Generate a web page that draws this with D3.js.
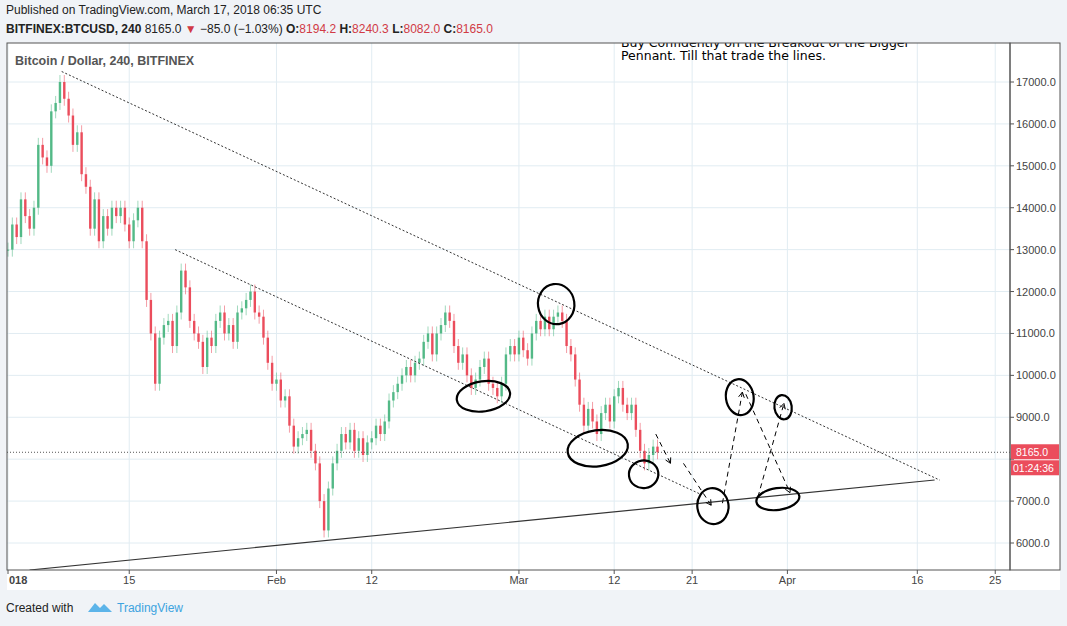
<!DOCTYPE html><html><head><meta charset="utf-8">
<script src="https://cdn.jsdelivr.net/npm/d3@7"></script>
<style>body{margin:0;background:#fff;font-family:Arial,"Liberation Sans",sans-serif}</style></head><body>
<svg id="c" width="1067" height="626"></svg>
<script>
// 12h closes from Jan 1 2018
const closes=[13000,13600,13300,14200,13800,13500,14000,15500,15200,15000,16300,16500,17000,16600,16200,15500,15800,14800,14500,13500,14200,13200,13800,13500,14000,13800,14000,13600,13200,13700,14000,13200,11800,11000,9800,10900,11200,11300,10700,11500,12500,12100,11300,11000,10800,10200,10900,10700,11300,11500,11000,11200,10800,11500,11600,11800,12000,11500,11400,10900,10300,9800,9900,9400,9500,8800,8300,8500,8600,8700,8200,7900,7000,6300,7300,7900,8200,8600,8400,8700,8200,8500,8100,8400,8500,8800,8600,8900,9400,9600,9800,10000,10200,10000,10300,10400,10800,11000,10500,11000,11200,11500,11300,10700,10300,10500,10000,9700,9900,10200,10400,9800,9700,9500,9800,10500,10700,10500,10900,10600,10400,11000,11300,11100,11400,11100,11400,11500,11300,10700,10500,9900,9300,8800,9200,8900,8600,9100,9300,8900,9500,9700,9300,9100,9300,8700,8200,7900,8100,8300,8165];
const priceTicks=[6000,7000,8000,9000,10000,11000,12000,13000,14000,15000,16000,17000];
const timeTicks=[[0,"018"],[14,"15"],[31,"Feb"],[42,"12"],[59,"Mar"],[70,"12"],[79,"21"],[90,"Apr"],[105,"16"],[114,"25"]];
const lastPrice=8165;
const upperLine=[[6.2,17250],[107.6,7500]];
const midLine=[[19.3,13000],[79.9,7170]];
const baseLine=[[2.5,5356],[107,7503]];
const circles=[[63.3,11700,2.1,480],[54.9,9500,3.1,360],[68.1,8260,3.5,430],[73.4,7640,1.7,330],[84.5,9480,1.6,430],[89.5,9240,1.0,290],[81.4,6880,1.8,430],[88.9,7050,2.5,260]];
const arrows=[[74.8,8600,76.5,7900],[78.0,7900,81.2,6900],[82.5,6950,84.8,9600],[85.2,9550,90.3,7200],[86.6,7100,89.6,9330]];

const svg=d3.select("#c");
const L=7,R=1010,T=43,B=570;
const x=d3.scaleLinear().domain([0,1]).range([8,16.66]);
const y=d3.scaleLinear().domain([6000,17000]).range([543,82]);
svg.append("rect").attr("width",1067).attr("height",626).attr("fill","#f0f3f7");
svg.append("rect").attr("x",L).attr("y",T).attr("width",1060-L).attr("height",B-T+20).attr("fill","#fff");
svg.append("defs").append("clipPath").attr("id","cp").append("rect").attr("x",L).attr("y",T).attr("width",R-L).attr("height",B-T);
const g=svg.append("g").attr("clip-path","url(#cp)");
priceTicks.forEach(p=>g.append("line").attr("x1",L).attr("x2",R).attr("y1",y(p)).attr("y2",y(p)).attr("stroke","#e1ecf2"));
timeTicks.forEach(t=>g.append("line").attr("x1",x(t[0])).attr("x2",x(t[0])).attr("y1",T).attr("y2",B).attr("stroke","#e1ecf2"));
const cand=closes.map((c,i)=>{const o=i?closes[i-1]:c;return {i,o,c};});
const up="#53b987",dn="#eb4d5c";
cand.forEach(d=>{const cx=x(d.i/2);const col=d.c>=d.o?up:dn;const hi=Math.max(d.o,d.c),lo=Math.min(d.o,d.c);
 g.append("line").attr("x1",cx).attr("x2",cx).attr("y1",y(hi)-7).attr("y2",y(lo)+7).attr("stroke",col).attr("stroke-opacity",0.55);
 g.append("rect").attr("x",cx-1.2).attr("width",2.4).attr("y",y(hi)).attr("height",Math.max(1,y(lo)-y(hi))).attr("fill",col);});
const ln=(a,dash,w)=>g.append("line").attr("x1",x(a[0][0])).attr("y1",y(a[0][1])).attr("x2",x(a[1][0])).attr("y2",y(a[1][1])).attr("stroke","#333").attr("stroke-width",w).attr("stroke-dasharray",dash);
ln(upperLine,"2,2",1);ln(midLine,"2,2",1);ln(baseLine,null,1.2);
g.append("line").attr("x1",L).attr("x2",R).attr("y1",y(lastPrice)).attr("y2",y(lastPrice)).attr("stroke","#555").attr("stroke-dasharray","1,2");
circles.forEach(c=>{const cx=x(c[0]),cy=y(c[1]);g.append("ellipse").attr("cx",cx).attr("cy",cy).attr("rx",x(c[2])-x(0)).attr("ry",y(0)-y(c[3])).attr("fill","none").attr("stroke","#000").attr("stroke-width",2.2).attr("transform",`rotate(-8 ${cx} ${cy})`);});
arrows.forEach(a=>{const x1=x(a[0]),y1=y(a[1]),x2=x(a[2]),y2=y(a[3]);
 g.append("line").attr("x1",x1).attr("y1",y1).attr("x2",x2).attr("y2",y2).attr("stroke","#000").attr("stroke-dasharray","5,4");
 const ang=Math.atan2(y2-y1,x2-x1);[0.5,-0.5].forEach(s=>g.append("line").attr("x1",x2).attr("y1",y2).attr("x2",x2-6*Math.cos(ang+s)).attr("y2",y2-6*Math.sin(ang+s)).attr("stroke","#000"));});
g.append("text").attr("x",621).attr("y",47).attr("font-family","DejaVu Sans").attr("font-size",12.5).text("Buy Confidently on the Breakout of the Bigger");
g.append("text").attr("x",621).attr("y",60).attr("font-family","DejaVu Sans").attr("font-size",12.5).text("Pennant. Till that trade the lines.");
g.append("text").attr("x",15).attr("y",65).attr("font-size",12.5).attr("font-weight","bold").attr("fill","#555").text("Bitcoin / Dollar, 240, BITFINEX");
svg.append("rect").attr("x",L).attr("y",T).attr("width",R-L).attr("height",B-T).attr("fill","none").attr("stroke","#555");
svg.append("rect").attr("x",R).attr("y",T).attr("width",50).attr("height",B-T).attr("fill","none").attr("stroke","#555");
priceTicks.forEach(p=>{svg.append("line").attr("x1",R).attr("x2",R+4).attr("y1",y(p)).attr("y2",y(p)).attr("stroke","#555");
 if(Math.abs(y(p)-y(lastPrice))>20) svg.append("text").attr("x",1016).attr("y",y(p)+4).attr("font-size",11).attr("fill","#444").text(p.toFixed(1));});
svg.append("rect").attr("x",R+1).attr("y",y(lastPrice)-8).attr("width",48).attr("height",15).attr("fill","#eb4d5c");
svg.append("text").attr("x",1016).attr("y",y(lastPrice)+4).attr("font-size",10.5).attr("fill","#fff").text(lastPrice.toFixed(1));
svg.append("rect").attr("x",R+1).attr("y",y(lastPrice)+8).attr("width",48).attr("height",15).attr("fill","#eb4d5c");
svg.append("text").attr("x",1013).attr("y",y(lastPrice)+19.5).attr("font-size",10.5).attr("fill","#fff").text("01:24:36");
timeTicks.forEach(t=>{const tx=x(t[0]);svg.append("line").attr("x1",tx).attr("x2",tx).attr("y1",B).attr("y2",B+4).attr("stroke","#555");
 svg.append("text").attr("x",t[1]=="018"?9:tx).attr("y",B+14).attr("text-anchor",t[1]=="018"?"start":"middle").attr("font-size",11).attr("fill","#444").attr("font-weight",t[1]=="018"?"bold":null).text(t[1]);});
svg.append("text").attr("x",6).attr("y",14).attr("font-size",12).attr("fill","#222").text("Published on TradingView.com, March 17, 2018 06:35 UTC");
const h=svg.append("text").attr("x",6).attr("y",33).attr("font-size",12).attr("font-weight","bold").attr("fill","#222");
h.append("tspan").text("BITFINEX:BTCUSD, 240  ");h.append("tspan").attr("font-weight","normal").text("8165.0 ");
h.append("tspan").attr("fill","#d13a45").text("▼ ");h.append("tspan").attr("font-weight","normal").text("−85.0 (−1.03%) ");
[["O:","8194.2"],["H:","8240.3"],["L:","8082.0"],["C:","8165.0"]].forEach(v=>{h.append("tspan").text(v[0]);h.append("tspan").attr("fill","#d13a45").attr("font-weight","normal").text(v[1]+" ");});
svg.append("text").attr("x",6).attr("y",612).attr("font-size",12).attr("fill","#222").text("Created with");
svg.append("path").attr("d","M88,612 l7,-9 l5,5 l4,-4 l8,8 z").attr("fill","#5cb4e9");
svg.append("text").attr("x",117).attr("y",612).attr("font-size",12).attr("fill","#3da3e0").text("TradingView");
</script></body></html>
